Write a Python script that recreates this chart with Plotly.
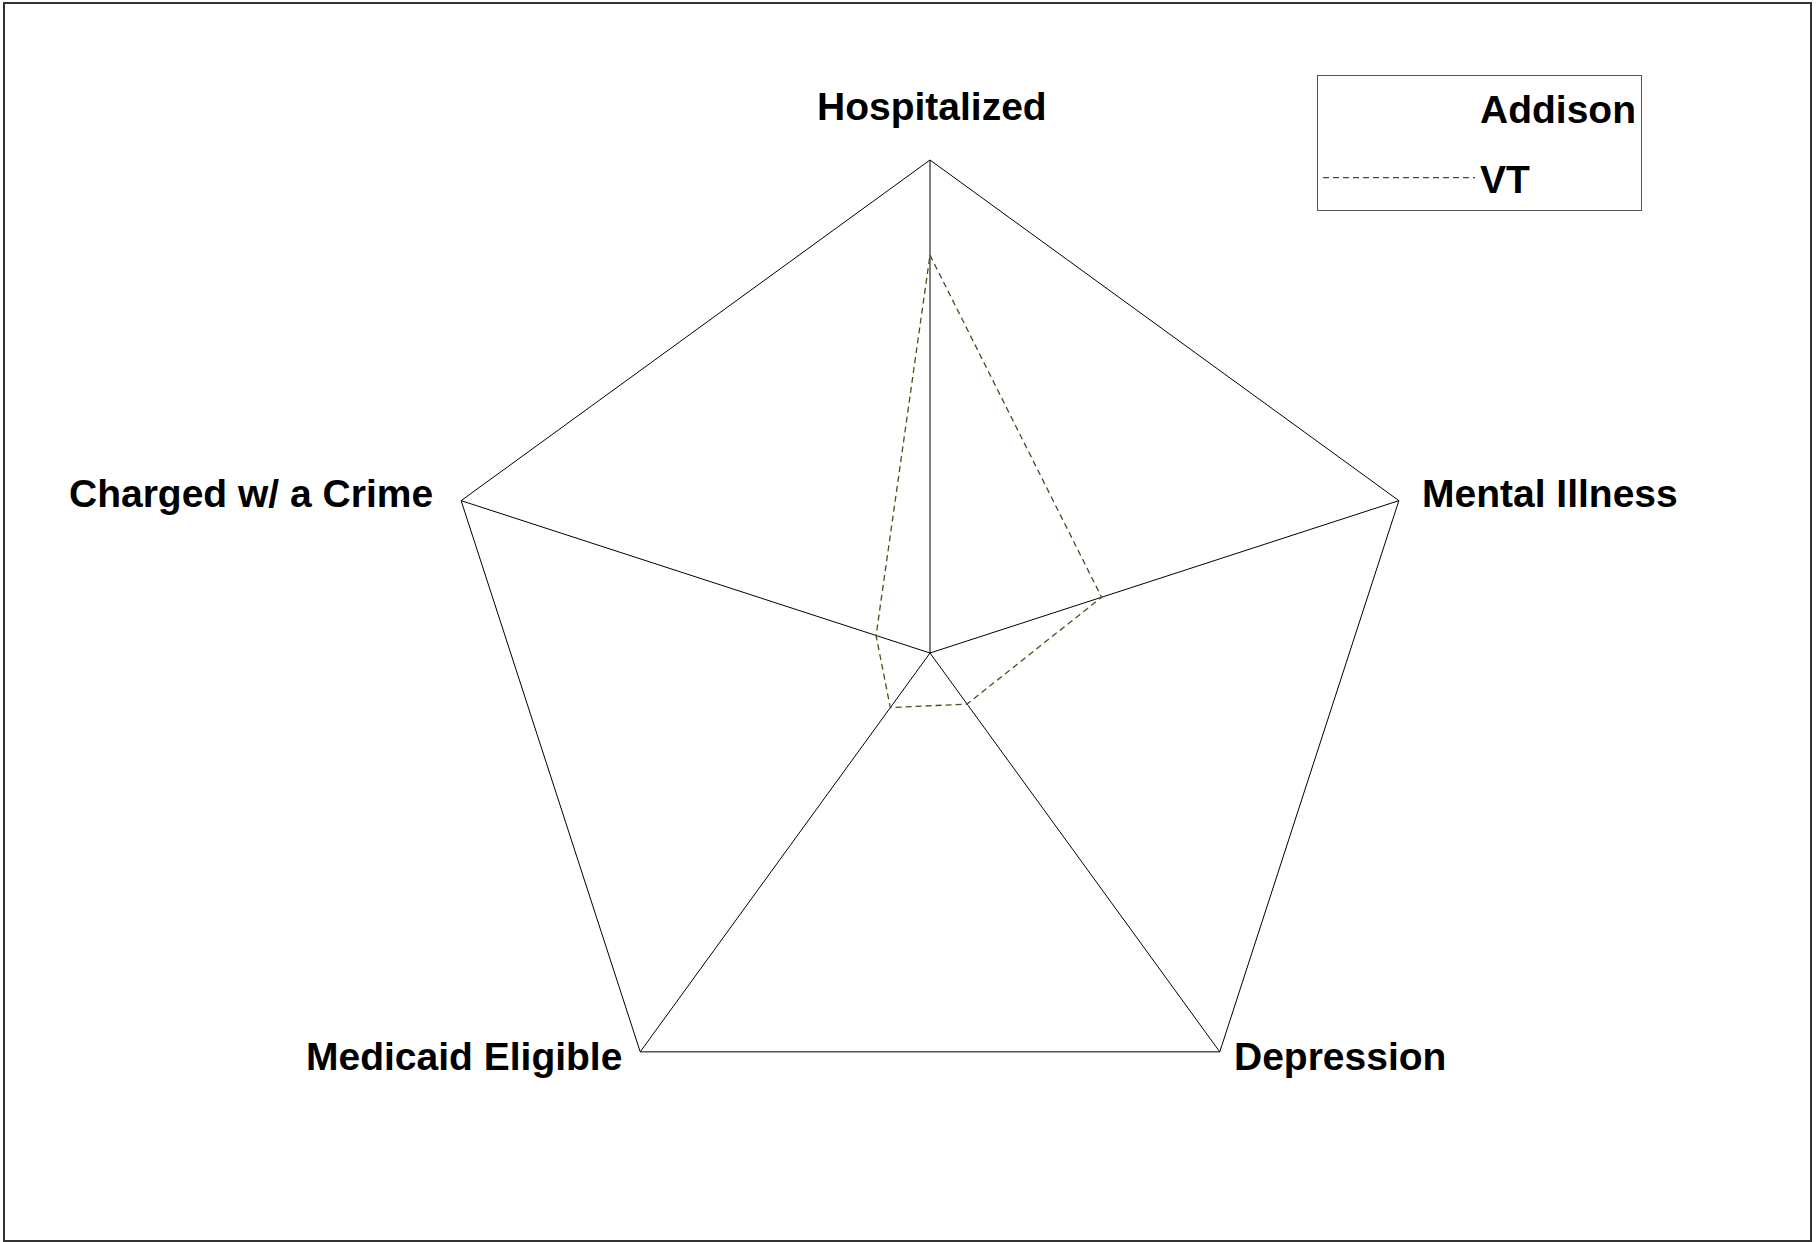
import math
import plotly.graph_objects as go

categories = ["Hospitalized", "Mental Illness", "Depression", "Medicaid Eligible", "Charged w/ a Crime"]
addison = [1.0, 1.0, 1.0, 1.0, 1.0]
vt = [0.807, 0.366, 0.128, 0.137, 0.115]

W, H = 1820, 1242
cx, cy, R = 930, 653, 493

# label placement (style): offset from vertex in px, and horizontal anchor
label_offsets = [(2, -53.5), (21, -7.5), (12, 5), (-16, 5), (-26, -7.5)]
label_anchor = ["center", "left", "left", "right", "right"]

font = "Liberation Sans, Arial, sans-serif"

fig = go.Figure()
fig.add_trace(go.Scatterpolar(
    r=addison + addison[:1], theta=categories + categories[:1], mode="lines",
    name="Addison", line=dict(color="rgba(0,0,0,0)", width=1),
    legendgroup="a", hoverinfo="skip"))
fig.add_trace(go.Scatterpolar(
    r=vt + vt[:1], theta=categories + categories[:1], mode="lines",
    name="VT", line=dict(color="#4d4d1a", width=1.3, dash="6px,4px"),
    legendgroup="b"))

annotations = []
n = len(categories)
for i, (cat, (dx, dy), anc) in enumerate(zip(categories, label_offsets, label_anchor)):
    ang = math.radians(90 - 360 * i / n)
    vx = cx + R * math.cos(ang)
    vy = cy - R * math.sin(ang)
    annotations.append(dict(
        text=cat, xref="paper", yref="paper",
        x=(vx + dx) / W, y=1 - (vy + dy) / H,
        xanchor=anc, yanchor="middle", showarrow=False,
        font=dict(size=39, family=font, color="black", weight="bold")))

fig.update_layout(
    width=W, height=H,
    margin=dict(l=0, r=0, t=0, b=0),
    paper_bgcolor="white", plot_bgcolor="white",
    font=dict(family=font, color="black"),
    polar=dict(
        domain=dict(x=[(cx - R) / W, (cx + R) / W], y=[1 - (cy + R) / H, 1 - (cy - R) / H]),
        bgcolor="white",
        gridshape="linear",
        radialaxis=dict(visible=False, range=[0, 1]),
        angularaxis=dict(
            direction="clockwise", rotation=90,
            showline=True, linecolor="black", linewidth=1,
            showgrid=True, gridcolor="black", gridwidth=1,
            ticks="", showticklabels=False,
        ),
    ),
    legend=dict(
        x=1317 / W, y=1 - 75 / H, xanchor="left", yanchor="top",
        bordercolor="#555555", borderwidth=1, bgcolor="white",
        font=dict(size=39, family=font, color="black", weight="bold"),
        itemwidth=152, tracegroupgap=16, traceorder="grouped",
    ),
    annotations=annotations,
    shapes=[dict(type="rect", xref="paper", yref="paper",
                 x0=4 / W, x1=1811 / W, y0=1 - 1241 / H, y1=1 - 3 / H,
                 line=dict(color="#333333", width=2))],
)

fig.write_html("out.html", config={"displayModeBar": False},
               post_script="document.body.style.margin='0';document.body.style.overflow='hidden';")
